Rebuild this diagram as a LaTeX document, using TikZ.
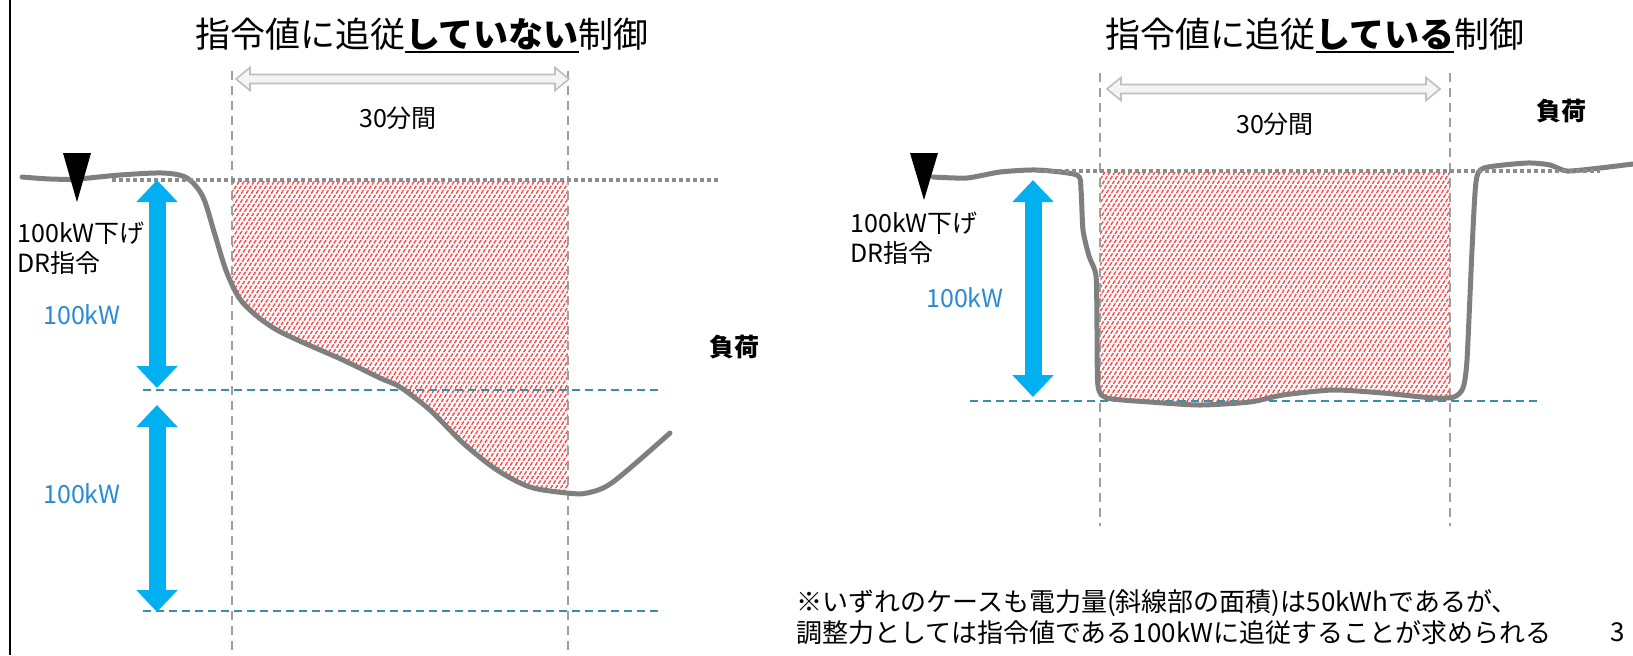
\documentclass[tikz,border=0pt]{standalone}
\usepackage{fontspec}
\setmainfont{Noto Sans CJK JP}
\usepackage{tikz}
\usetikzlibrary{arrows.meta}

\definecolor{loadgray}{HTML}{7F7F7F}
\definecolor{refgray}{HTML}{8C8C8C}
\definecolor{guidegray}{HTML}{A0A0A0}
\definecolor{levelteal}{HTML}{3A8FA8}
\definecolor{drblue}{HTML}{00B0F0}
\definecolor{kwblue}{HTML}{2A8AD4}
\definecolor{spanedge}{HTML}{BFBFBF}
\definecolor{spanfill}{HTML}{F4F4F2}
\definecolor{hatchred}{HTML}{FF4848}

\newcommand{\titleul}[1]{\setbox0\hbox{#1}\rlap{\rule[-3.2pt]{\wd0}{1.1pt}}\box0}

\begin{document}
\begin{tikzpicture}[x=0.5pt,y=-0.5pt,
  loadline/.style={draw=loadgray,line width=2.5pt,line cap=round,line join=round},
  refline/.style={draw=refgray,line width=2pt,dash pattern=on 2pt off 1.5pt},
  guideline/.style={draw=guidegray,line width=0.7pt,dash pattern=on 4.5pt off 3pt},
  kwline/.style={draw=levelteal,line width=0.8pt,dash pattern=on 4pt off 2.5pt},
  drarrow/.style={draw=drblue,line width=8.5pt,{Triangle[length=11pt,width=20pt]}-{Triangle[length=11pt,width=20pt]}},
  spanarrow/.style={draw=spanedge,fill=spanfill,line width=0.8pt},
  hatchline/.style={draw=hatchred,line width=0.7pt,dash pattern=on 2pt off 0.7pt},
  lbl/.style={inner sep=0pt,font=\fontsize{12.5}{15}\selectfont},
  kwlbl/.style={lbl,text=kwblue},
  titletext/.style={inner sep=0pt,anchor=base,font=\fontsize{17.5}{21}\selectfont}]
\useasboundingbox (0,0) rectangle (1633,655);

\draw[line width=1pt] (10,0) -- (10,655);

\begin{scope}
\clip (232,181) rectangle (568,520);
\clip (22,0) -- plot[smooth,tension=.5] coordinates {(22,177) (50,179) (77,179) (120,175) (163,173) (187,178) (203,197) (215,235) (227,273) (243,303) (277,330) (343,360) (380,378) (400,387) (430,410) (463,443) (497,470) (530,487) (567,493) (587,493) (613,482) (670,433)} -- (670,0) -- cycle;
\foreach \hx in {15,20,...,570}
  \draw[hatchline] (\hx,520) -- ++(220,-340);
\end{scope}

\begin{scope}
\clip (1100,172) rectangle (1450,420);
\clip (933,0) -- plot[smooth,tension=.4] coordinates {(933,177) (967,178) (1000,172) (1037,170) (1077,175) (1081,190) (1083,230) (1089,256) (1096,276) (1097,330) (1098,386) (1107,398) (1150,402) (1200,405) (1250,402) (1283,395) (1333,390) (1383,393) (1433,398) (1454,397) (1463,388) (1467,360) (1472,250) (1476,182) (1484,168) (1527,163) (1550,165) (1567,171) (1600,168) (1633,164)} -- (1633,0) -- cycle;
\foreach \hx in {940,945,...,1450}
  \draw[hatchline] (\hx,420) -- ++(160,-248);
\end{scope}

\draw[guideline] (232,71) -- (232,655);
\draw[guideline] (568,71) -- (568,655);
\draw[guideline] (1100,73) -- (1100,526);
\draw[guideline] (1450,73) -- (1450,526);

\draw[kwline] (143,390) -- (663,390);
\draw[kwline] (143,611) -- (663,611);
\draw[kwline] (970,401) -- (1540,401);

\draw[loadline] plot[smooth,tension=.5] coordinates {(22,177) (50,179) (77,179) (120,175) (163,173) (187,178) (203,197) (215,235) (227,273) (243,303) (277,330) (343,360) (380,378) (400,387) (430,410) (463,443) (497,470) (530,487) (567,493) (587,493) (613,482) (670,433)};
\draw[loadline] plot[smooth,tension=.4] coordinates {(933,177) (967,178) (1000,172) (1037,170) (1077,175) (1081,190) (1083,230) (1089,256) (1096,276) (1097,330) (1098,386) (1107,398) (1150,402) (1200,405) (1250,402) (1283,395) (1333,390) (1383,393) (1433,398) (1454,397) (1463,388) (1467,360) (1472,250) (1476,182) (1484,168) (1527,163) (1550,165) (1567,171) (1600,168) (1633,164)};

\draw[refline] (112,180) -- (721,180);
\draw[refline] (1037,171) -- (1600,171);

\coordinate (ltop) at (157,180);
\coordinate (lmid) at (157,388);
\coordinate (lmid2) at (157,405);
\coordinate (lbot) at (157,612);
\coordinate (rtop) at (1033,180);
\coordinate (rbot) at (1033,397);
\draw[drarrow] (ltop) -- (lmid);
\draw[drarrow] (lmid2) -- (lbot);
\draw[drarrow] (rtop) -- (rbot);

\fill (63,153) -- (91,153) -- (77,202) -- cycle;
\fill (910,153) -- (938,153) -- (924,200) -- cycle;

\draw[spanarrow] (236,79) -- ++(14,-11.5) -- ++(0,7) -- (555,74.5) -- ++(0,-7) -- (569,79) -- ++(-14,11.5) -- ++(0,-7) -- (250,83.5) -- ++(0,7) -- cycle;
\draw[spanarrow] (1107,89) -- ++(14,-11.5) -- ++(0,7) -- (1426,84.5) -- ++(0,-7) -- (1440,89) -- ++(-14,11.5) -- ++(0,-7) -- (1121,93.5) -- ++(0,7) -- cycle;

\node[titletext] (ltitle) at (422,47) {指令値に追従\titleul{\bfseries していない}制御};
\node[titletext] (rtitle) at (1315,47) {指令値に追従\titleul{\bfseries している}制御};
\node[lbl] (lspan) at (398,118) {30分間};
\node[lbl] (rspan) at (1275,124) {30分間};
\node[lbl,font=\fontsize{12.5}{15}\selectfont\bfseries] (lload) at (734,347) {負荷};
\node[lbl,font=\fontsize{12.5}{15}\selectfont\bfseries] (rload) at (1561,111) {負荷};
\node[lbl,anchor=west,align=left] (lcmd) at (17,248) {100kW下げ\\DR指令};
\node[lbl,anchor=west,align=left] (rcmd) at (850,238) {100kW下げ\\DR指令};
\node[kwlbl] (lkw1) at (82,315) {100kW};
\node[kwlbl] (lkw2) at (82,494) {100kW};
\node[kwlbl] (rkw) at (965,298) {100kW};
\node[lbl,anchor=west,align=left,font=\fontsize{13}{15.5}\selectfont] (note) at (796,617) {※いずれのケースも電力量(斜線部の面積)は50kWhであるが、\\調整力としては指令値である100kWに追従することが求められる};
\node[lbl,font=\fontsize{13}{15.5}\selectfont] (page) at (1618,632) {3};
\end{tikzpicture}
\end{document}
